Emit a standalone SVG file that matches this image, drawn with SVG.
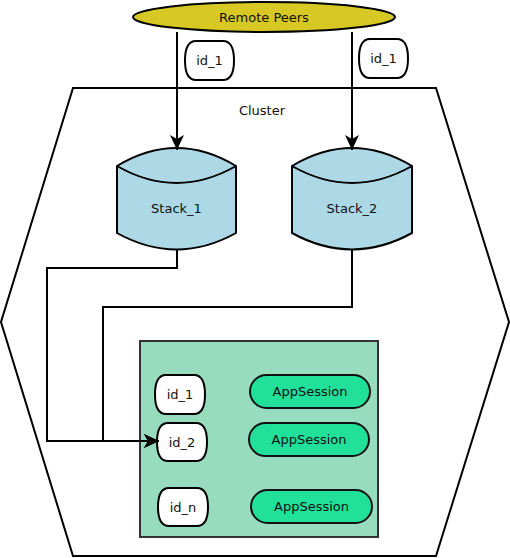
<svg xmlns="http://www.w3.org/2000/svg" width="510" height="558" viewBox="0 0 510 558">
<style>
text{font-family:"DejaVu Sans",sans-serif;font-size:13px;fill:#111;text-anchor:middle;dominant-baseline:central}
.tag{fill:#fff;stroke:#000;stroke-width:2}
.stack{fill:#add8e6;stroke:#000;stroke-width:2}
.app{fill:#20e09a;stroke:#111;stroke-width:2}
.conn{fill:none;stroke:#000;stroke-width:2}
</style>
<defs>
<marker id="ah" markerWidth="16" markerHeight="14" refX="15" refY="7" orient="auto" markerUnits="userSpaceOnUse">
<path d="M0,0 L15,7 L0,14 L4,7 Z" fill="#000"/>
</marker>
<clipPath id="c1"><rect x="251" y="376" width="117" height="31" rx="15.5"/></clipPath>
<clipPath id="c3"><rect x="252" y="491" width="118" height="31" rx="15.5"/></clipPath>
</defs>
<g id="cluster">
<polygon points="73,88 436,88 509,322 436,556 73,556 1,322" fill="#fff" stroke="#000" stroke-width="2"/>
<text x="262" y="110">Cluster</text>
</g>
<g id="remote-peers">
<ellipse cx="264" cy="17" rx="131" ry="15" fill="#d8c824" stroke="#000" stroke-width="2"/>
<text x="264" y="17">Remote Peers</text>
</g>
<g id="peer-id1-a">
<path class="tag" d="M196,41 H223 C232,41 234,50 234,60.5 C234,71 232,80 223,80 H196 C187,80 185,71 185,60.5 C185,50 187,41 196,41 Z"/>
<text x="209.5" y="60.5">id_1</text>
</g>
<g id="peer-id1-b">
<path class="tag" d="M370,39 H397 C406,39 408,48 408,58.5 C408,69 406,78 397,78 H370 C361,78 359,69 359,58.5 C359,48 361,39 370,39 Z"/>
<text x="383.5" y="58.5">id_1</text>
</g>
<g id="stack1">
<path class="stack" d="M117,166 Q176.5,130 236,166 V233 Q176.5,266 117,233 Z"/>
<path d="M117,166 Q176.5,200 236,166" fill="none" stroke="#000" stroke-width="2"/>
<text x="176.5" y="208">Stack_1</text>
</g>
<g id="stack2">
<path class="stack" d="M292,166 Q352,130 412,166 V233 Q352,266 292,233 Z"/>
<path d="M292,166 Q352,200 412,166" fill="none" stroke="#000" stroke-width="2"/>
<text x="352" y="208">Stack_2</text>
</g>
<g id="session-box">
<rect x="140" y="341" width="238" height="196" fill="#98dcc0" stroke="#333" stroke-width="2"/>
</g>
<g id="id1">
<path class="tag" d="M166,375 H194 C203,375 205,384 205,394.5 C205,405 203,414 194,414 H166 C157,414 155,405 155,394.5 C155,384 157,375 166,375 Z"/>
<text x="180" y="394.5">id_1</text>
</g>
<g id="id2">
<path class="tag" d="M168,423 H196 C205,423 207,432 207,442 C207,452 205,461 196,461 H168 C159,461 157,452 157,442 C157,432 159,423 168,423 Z"/>
<text x="182" y="442">id_2</text>
</g>
<g id="idn">
<path class="tag" d="M169,488 H197 C206,488 208,497 208,507 C208,517 206,526 197,526 H169 C160,526 158,517 158,507 C158,497 160,488 169,488 Z"/>
<text x="183" y="507">id_n</text>
</g>
<g id="app1">
<rect class="app" x="250" y="375" width="120" height="33" rx="16.5"/>
<text x="310" y="391.5" clip-path="url(#c1)">AppSession</text>
</g>
<g id="app2">
<rect class="app" x="249" y="423" width="120" height="33" rx="16.5"/>
<text x="309" y="439">AppSession</text>
</g>
<g id="app3">
<rect class="app" x="251" y="490" width="121" height="33" rx="16.5"/>
<text x="311.5" y="506.5" clip-path="url(#c3)">AppSession</text>
</g>
<g id="connectors">
<line class="conn" x1="177" y1="32" x2="177" y2="150" marker-end="url(#ah)"/>
<line class="conn" x1="352" y1="32" x2="352" y2="150" marker-end="url(#ah)"/>
<polyline class="conn" points="177,250 177,268 47,268 47,441 159,441" marker-end="url(#ah)"/>
<polyline class="conn" points="352,250 352,307 103,307 103,441 159,441" marker-end="url(#ah)"/>
</g>
</svg>
